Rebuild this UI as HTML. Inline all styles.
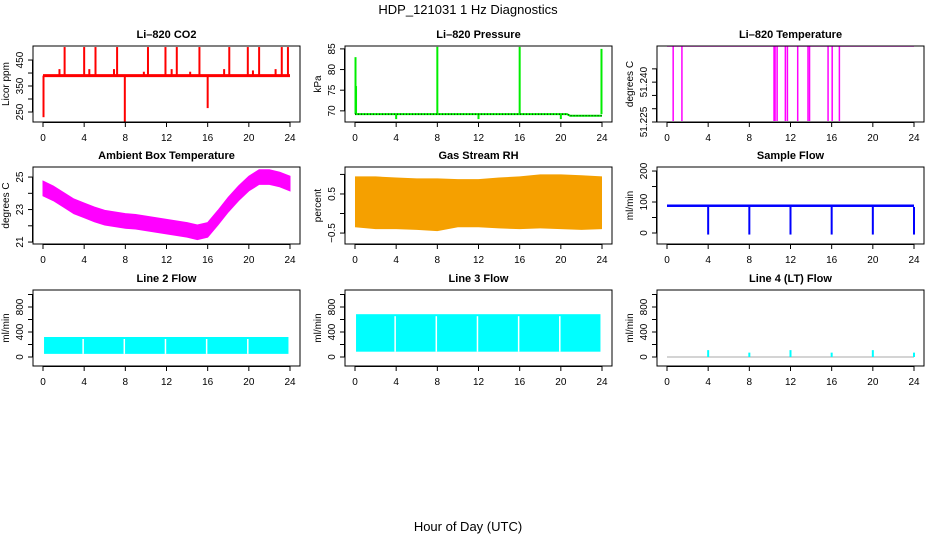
<!DOCTYPE html>
<html><head><meta charset="utf-8">
<style>
html,body{margin:0;padding:0;background:#fff;}
svg{display:block;font-family:"Liberation Sans",sans-serif;}
</style></head>
<body>
<svg id="chart" width="936" height="540" viewBox="0 0 936 540" xmlns="http://www.w3.org/2000/svg">
<text x="468" y="14" text-anchor="middle" font-size="13">HDP_121031  1 Hz Diagnostics</text>
<text x="468" y="531" text-anchor="middle" font-size="13">Hour of Day (UTC)</text>
</svg>
<script>
// ---- data ----
const xTicks = [0,4,8,12,16,20,24];
const co2Base = 390;
const co2SpikeHours = [0.05,2.1,4.0,5.1,7.2,7.95,10.2,11.9,13.0,15.2,16.0,18.1,19.9,21.0,23.2,23.8,1.6,4.5,6.9,9.8,12.5,14.3,17.6,20.4,22.6];
const co2SpikeValues = [230,500,500,500,500,212,500,500,500,500,265,500,500,500,500,500,415,415,415,405,415,405,415,410,415];
const presHours = [0,20.6,20.9,24];
const presValues = [69.2,69.2,68.8,68.8];
const presSpikeHours = [0.05,0.1,8.0,16.0,23.95,4.0,12.0,20.0];
const presSpikeValues = [83,76,85.5,85.5,85,68,68,68];
const ltBase = 51.2535;
const ltDropHours = [0.6,1.45,10.4,10.5,10.7,11.5,11.7,12.7,13.7,13.85,15.65,16.05,16.75];
const ltDropValue = 51.225;
const ambHours = [0,1,2,3,4,5,6,7,8,9,10,11,12,13,14,15,16,17,18,19,20,21,22,23,24];
const ambCenter = [24.3,24.0,23.6,23.2,22.95,22.7,22.5,22.4,22.3,22.25,22.15,22.05,21.95,21.85,21.75,21.6,21.75,22.5,23.3,24.0,24.6,25.0,25.0,24.85,24.6];
const ambHalf = 0.45;
const rhHours = [0,2,4,6,8,10,12,14,16,18,20,22,24];
const rhUpper = [0.95,0.95,0.92,0.9,0.9,0.88,0.88,0.92,0.95,1.0,1.0,0.98,0.95];
const rhLower = [-0.35,-0.4,-0.4,-0.42,-0.45,-0.35,-0.35,-0.38,-0.4,-0.38,-0.4,-0.42,-0.4];
const sfBase = [84,92];
const sfDropHours = [4,8,12,16,20,24];
const sfDropValue = -5;
const l2Band = [50,320];
const l3Band = [85,685];
const flowGapHours = [4,8,12,16,20];
const l4SpikeHours = [4,8,12,16,20,24];
const l4SpikeValues = [110,70,110,70,110,70];

// ---- layout ----
const svg = document.getElementById('chart');
const NS = 'http://www.w3.org/2000/svg';
const colBox = [[33,300],[345,612],[657,924]];
const colX0 = [43,355,667];
const rowBox = [[46,122],[167,244],[290,366]];
const hrPx = 247/24;
function el(tag, attrs, parent){const e=document.createElementNS(NS,tag);for(const k in attrs)e.setAttribute(k,attrs[k]);(parent||svg).appendChild(e);return e;}

function panel(c,r,title,ylab,dom,ticks,labels,name){
  const g = el('g',{});
  
  
  const [L,R]=colBox[c],[T,B]=rowBox[r];
  const xs=h=>colX0[c]+h*hrPx;
  const ys=v=>B-(v-dom[0])/(dom[1]-dom[0])*(B-T);
  const t=el('text',{x:(L+R)/2,y:T-8,'text-anchor':'middle','font-size':'11','font-weight':'bold'},g);
  t.textContent=title;
  
  
  const plot=el('g',{},g);
  
  
  const box=el('rect',{x:L,y:T,width:R-L,height:B-T,fill:'none',stroke:'#000','stroke-width':1},g);
  
  
  const xa=el('g',{},g);
  
  
  el('line',{x1:xs(0),x2:xs(24),y1:B+0.5,y2:B+0.5,stroke:'#000'},xa);
  xTicks.forEach(h=>{el('line',{x1:xs(h),x2:xs(h),y1:B,y2:B+5,stroke:'#000'},xa);
    const tl=el('text',{x:xs(h),y:B+19,'text-anchor':'middle','font-size':'10'},xa);tl.textContent=h;});
  const ya=el('g',{},g);
  
  
  el('line',{x1:L-0.5,x2:L-0.5,y1:ys(ticks[0]),y2:ys(ticks[ticks.length-1]),stroke:'#000'},ya);
  ticks.forEach((v,i)=>{const y=ys(v);el('line',{x1:L-5,x2:L,y1:y,y2:y,stroke:'#000'},ya);
    if(labels[i]){const tl=el('text',{x:L-10,y:y,'text-anchor':'middle','font-size':'10',transform:`rotate(-90 ${L-10} ${y})`},ya);tl.textContent=labels[i];}});
  const yl=el('text',{x:L-24,y:(T+B)/2,'text-anchor':'middle','font-size':'10',transform:`rotate(-90 ${L-24} ${(T+B)/2})`},g);
  yl.textContent=ylab;
  
  
  return {xs,ys,plot};
}

// CO2
(function(){
  const p=panel(0,0,'Li\u2013820 CO2','Licor ppm',[211.5,504],[250,300,350,400,450],['250','','350','','450'],'co2');
  co2SpikeHours.forEach((h,i)=>el('line',{x1:p.xs(h),x2:p.xs(h),y1:p.ys(co2Base),y2:p.ys(co2SpikeValues[i]),stroke:'#ff0000','stroke-width':2},p.plot));
  el('line',{x1:p.xs(0),x2:p.xs(24),y1:p.ys(co2Base),y2:p.ys(co2Base),stroke:'#ff0000','stroke-width':3},p.plot);
})();
// Pressure
(function(){
  const p=panel(1,0,'Li\u2013820 Pressure','kPa',[67.3,85.7],[70,75,80,85],['70','75','80','85'],'pressure');
  presSpikeHours.forEach((h,i)=>el('line',{x1:p.xs(h),x2:p.xs(h),y1:p.ys(69.2),y2:p.ys(presSpikeValues[i]),stroke:'#00ee00','stroke-width':2},p.plot));
  el('polyline',{points:presHours.map((h,i)=>p.xs(h)+','+p.ys(presValues[i])).join(' '),fill:'none',stroke:'#00ee00','stroke-width':2},p.plot);
  el('polyline',{points:presHours.map((h,i)=>p.xs(h)+','+p.ys(presValues[i])).join(' '),fill:'none',stroke:'#000','stroke-width':1,'stroke-dasharray':'1 2'},p.plot);
})();
// Li temp
(function(){
  const p=panel(2,0,'Li\u2013820 Temperature','degrees C',[51.225,51.2536],[51.225,51.230,51.235,51.240,51.245],['51.225','','','51.240',''],'li-temp');
  ltDropHours.forEach(h=>el('line',{x1:p.xs(h),x2:p.xs(h),y1:p.ys(ltBase),y2:p.ys(ltDropValue)-1,stroke:'#ff00ff','stroke-width':1.5},p.plot));
  el('line',{x1:p.xs(0),x2:p.xs(24),y1:p.ys(ltBase),y2:p.ys(ltBase),stroke:'#ff00ff','stroke-width':1},p.plot);
})();
// Ambient
(function(){
  const p=panel(0,1,'Ambient Box Temperature','degrees C',[20.88,25.62],[21,22,23,24,25],['21','','23','','25'],'ambient-temp');
  const up=ambHours.map((h,i)=>p.xs(h)+','+p.ys(ambCenter[i]+ambHalf));
  const lo=ambHours.map((h,i)=>p.xs(h)+','+p.ys(ambCenter[i]-ambHalf)).reverse();
  el('polygon',{points:up.concat(lo).join(' '),fill:'#ff00ff',stroke:'#ff00ff','stroke-width':1},p.plot);
})();
// RH
(function(){
  const p=panel(1,1,'Gas Stream RH','percent',[-0.78,1.19],[-0.5,0,0.5,1.0],['\u22120.5','','0.5',''],'gas-rh');
  const up=rhHours.map((h,i)=>p.xs(h)+','+p.ys(rhUpper[i]));
  const lo=rhHours.map((h,i)=>p.xs(h)+','+p.ys(rhLower[i])).reverse();
  el('polygon',{points:up.concat(lo).join(' '),fill:'#f5a000'},p.plot);
})();
// Sample flow
(function(){
  const p=panel(2,1,'Sample Flow','ml/min',[-35.5,213],[0,50,100,150,200],['0','','100','','200'],'sample-flow');
  el('rect',{x:p.xs(0),y:p.ys(sfBase[1]),width:p.xs(24)-p.xs(0),height:p.ys(sfBase[0])-p.ys(sfBase[1]),fill:'#0000ff'},p.plot);
  sfDropHours.forEach(h=>el('line',{x1:p.xs(h),x2:p.xs(h),y1:p.ys(sfBase[0]),y2:p.ys(sfDropValue),stroke:'#0000ff','stroke-width':2},p.plot));
})();
// Line 2,3
function flowPanel(c,title,band,name){
  const p=panel(c,2,title,'ml/min',[-144,1072],[0,200,400,600,800,1000],['0','','400','','800',''],name);
  el('rect',{x:p.xs(0.1),y:p.ys(band[1]),width:p.xs(23.85)-p.xs(0.1),height:p.ys(band[0])-p.ys(band[1]),fill:'#00ffff'},p.plot);
  flowGapHours.forEach(h=>el('line',{x1:p.xs(h-0.1),x2:p.xs(h-0.1),y1:p.ys(band[1])+2,y2:p.ys(band[0]),stroke:'#fff','stroke-width':1.5},p.plot));
}
flowPanel(0,'Line 2 Flow',l2Band,'line2-flow');
flowPanel(1,'Line 3 Flow',l3Band,'line3-flow');
// Line 4
(function(){
  const p=panel(2,2,'Line 4 (LT) Flow','ml/min',[-144,1072],[0,200,400,600,800,1000],['0','','400','','800',''],'line4-flow');
  el('line',{x1:p.xs(0),x2:p.xs(24),y1:p.ys(0),y2:p.ys(0),stroke:'#aaaaaa','stroke-width':1},p.plot);
  l4SpikeHours.forEach((h,i)=>el('line',{x1:p.xs(h),x2:p.xs(h),y1:p.ys(0),y2:p.ys(l4SpikeValues[i]),stroke:'#00ffff','stroke-width':2},p.plot));
})();
</script>
</body></html>
